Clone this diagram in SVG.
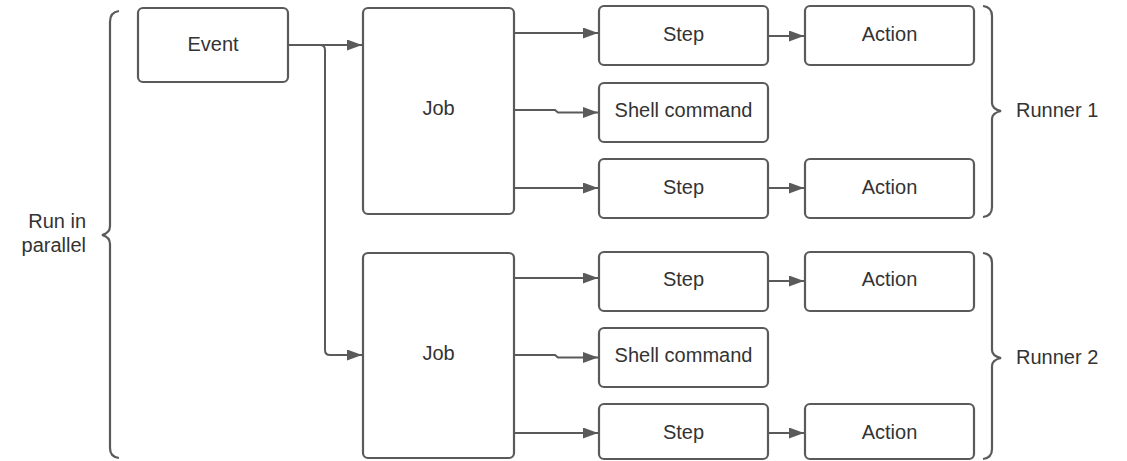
<svg xmlns="http://www.w3.org/2000/svg" width="1127" height="461" viewBox="0 0 1127 461">
<style>
.box{fill:#fff;stroke:#5a5a5a;stroke-width:2.2}
.lbl{font-family:"Liberation Sans",Arial,sans-serif;font-size:20px;fill:#333;text-anchor:middle}
.side{font-family:"Liberation Sans",Arial,sans-serif;font-size:20px;fill:#333}
.con{fill:none;stroke:#5a5a5a;stroke-width:2}
.brace{fill:none;stroke:#5a5a5a;stroke-width:2.2}
</style>
<defs>
<marker id="ah" markerWidth="15" markerHeight="11" refX="15" refY="5.5" orient="auto" markerUnits="userSpaceOnUse">
<path d="M0,0 L15,5.5 L0,11 Z" fill="#5a5a5a"/>
</marker>
</defs>
<rect width="1127" height="461" fill="#fff"/>
<g id="brace-parallel">
<path class="brace" d="M119,11 Q110,12 110,22 L110,226 Q110,233 102,235 Q110,237 110,244 L110,448 Q110,457 119,458"/>
<text class="side" x="86" y="228" text-anchor="end">Run in</text>
<text class="side" x="86" y="252" text-anchor="end">parallel</text>
</g>
<g id="brace-runner1">
<path class="brace" d="M983,6 Q992,7 992,16 L992,103 Q992,109 1001,111 Q992,113 992,119 L992,207 Q992,216 983,217"/>
<text class="side" x="1016" y="117">Runner 1</text>
</g>
<g id="brace-runner2">
<path class="brace" d="M983,253 Q992,254 992,263 L992,350 Q992,356 1001,358 Q992,360 992,366 L992,449 Q992,458 983,459"/>
<text class="side" x="1016" y="364">Runner 2</text>
</g>
<g id="connectors">
<path class="con" d="M288,45 H362" marker-end="url(#ah)"/>
<path class="con" d="M320,45 Q325,45 325,50 L325,350 Q325,355 330,355 H362" marker-end="url(#ah)"/>
<path class="con" d="M514,33 H598" marker-end="url(#ah)"/>
<path class="con" d="M514,110 H555 L558,112.5 H598" marker-end="url(#ah)"/>
<path class="con" d="M514,188 H598" marker-end="url(#ah)"/>
<path class="con" d="M768,36 H804" marker-end="url(#ah)"/>
<path class="con" d="M768,188 H804" marker-end="url(#ah)"/>
<path class="con" d="M514,278 H598" marker-end="url(#ah)"/>
<path class="con" d="M514,355 H555 L558,357.5 H598" marker-end="url(#ah)"/>
<path class="con" d="M514,433 H598" marker-end="url(#ah)"/>
<path class="con" d="M768,281 H804" marker-end="url(#ah)"/>
<path class="con" d="M768,433 H804" marker-end="url(#ah)"/>
</g>
<g id="event"><rect class="box" x="138" y="8" width="150" height="74" rx="5"/><text class="lbl" x="213" y="51">Event</text></g>
<g id="job1"><rect class="box" x="363" y="8" width="151" height="206" rx="5"/><text class="lbl" x="438.5" y="115">Job</text></g>
<g id="job2"><rect class="box" x="363" y="253" width="151" height="205" rx="5"/><text class="lbl" x="438.5" y="360">Job</text></g>
<g id="step1"><rect class="box" x="599" y="6" width="169" height="59" rx="5"/><text class="lbl" x="683.5" y="41">Step</text></g>
<g id="shell1"><rect class="box" x="599" y="83" width="169" height="59" rx="5"/><text class="lbl" x="683.5" y="117">Shell command</text></g>
<g id="step2"><rect class="box" x="599" y="159" width="169" height="59" rx="5"/><text class="lbl" x="683.5" y="194">Step</text></g>
<g id="action1"><rect class="box" x="805" y="6" width="169" height="59" rx="5"/><text class="lbl" x="889.5" y="41">Action</text></g>
<g id="action2"><rect class="box" x="805" y="159" width="169" height="59" rx="5"/><text class="lbl" x="889.5" y="194">Action</text></g>
<g id="step3"><rect class="box" x="599" y="252" width="169" height="59" rx="5"/><text class="lbl" x="683.5" y="286">Step</text></g>
<g id="shell2"><rect class="box" x="599" y="328" width="169" height="59" rx="5"/><text class="lbl" x="683.5" y="362">Shell command</text></g>
<g id="step4"><rect class="box" x="599" y="404" width="169" height="55" rx="5"/><text class="lbl" x="683.5" y="439">Step</text></g>
<g id="action3"><rect class="box" x="805" y="252" width="169" height="59" rx="5"/><text class="lbl" x="889.5" y="286">Action</text></g>
<g id="action4"><rect class="box" x="805" y="404" width="169" height="55" rx="5"/><text class="lbl" x="889.5" y="439">Action</text></g>
</svg>
